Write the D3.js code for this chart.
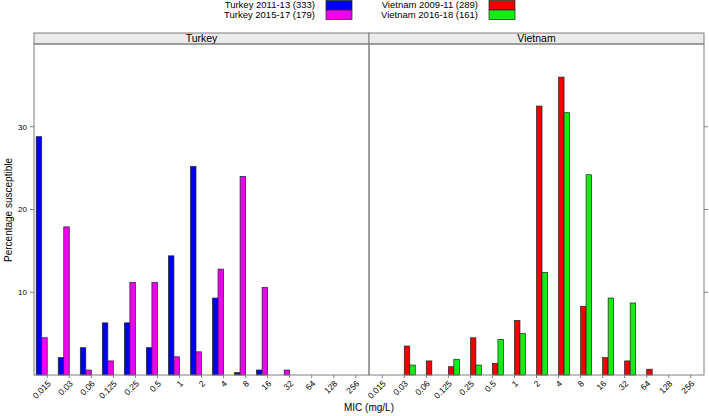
<!DOCTYPE html>
<html>
<head>
<meta charset="utf-8">
<script src="https://cdn.jsdelivr.net/npm/d3@7"></script>
<style>
  body { margin: 0; background: #fff; }
  text { font-family: "Liberation Sans", Arial, sans-serif; fill: #000; }
</style>
</head>
<body>
<div id="chart"></div>
<script>
var mic = ["0.015","0.03","0.06","0.125","0.25","0.5","1","2","4","8","16","32","64","128","256"];

var turkey_2011 = [28.8, 2.1, 3.3, 6.3, 6.3, 3.3, 14.4, 25.2, 9.3, 0.3, 0.6, 0, 0, 0, 0];
var turkey_2015 = [4.5, 17.9, 0.6, 1.7, 11.2, 11.2, 2.2, 2.8, 12.8, 24.0, 10.6, 0.6, 0, 0, 0];
var vietnam_2009 = [0, 3.5, 1.7, 1.0, 4.5, 1.4, 6.6, 32.5, 36.0, 8.3, 2.1, 1.7, 0.7, 0, 0];
var vietnam_2016 = [0, 1.2, 0, 1.9, 1.2, 4.3, 5.0, 12.4, 31.7, 24.2, 9.3, 8.7, 0, 0, 0];

var series_names = ["Turkey 2011-13 (333)", "Turkey 2015-17 (179)", "Vietnam 2009-11 (289)", "Vietnam 2016-18 (161)"];
var series_colors = ["#0000f0", "#f000f0", "#f00000", "#10f010"];
var panels = ["Turkey", "Vietnam"];
var y_ticks = [10, 20, 30];

var W = 709, H = 416;
var left = 34, right = 704, stripTop = 33, stripBottom = 44, bottom = 375;
var panelW = (right - left) / 2;

var svg = d3.select("#chart").append("svg")
    .attr("width", W).attr("height", H);

var y = d3.scaleLinear().domain([0, 40]).range([bottom, stripBottom]);

// group slot in each band (4 slots, each panel fills two of them)
var slot = d3.scaleBand().domain([0, 1, 2, 3]).paddingInner(0).paddingOuter(0);

var panelData = [
    {name: panels[0], series: [{idx: 0, vals: turkey_2011}, {idx: 1, vals: turkey_2015}]},
    {name: panels[1], series: [{idx: 2, vals: vietnam_2009}, {idx: 3, vals: vietnam_2016}]}
];

panelData.forEach(function(p, pi) {
    var x0 = left + pi * panelW;
    var x = d3.scaleLinear().domain([0.4, mic.length + 0.6]).range([x0, x0 + panelW]);
    var bandW = x(2) - x(1);
    slot.range([-bandW / 2, bandW / 2]);

    var g = svg.append("g");

    p.series.forEach(function(s) {
        g.selectAll(null)
            .data(s.vals.map(function(v, i) { return {v: v, i: i}; }).filter(function(d) { return d.v > 0; }))
            .enter().append("rect")
            .attr("x", function(d) { return x(d.i + 1) + slot(s.idx); })
            .attr("width", slot.bandwidth())
            .attr("y", function(d) { return y(d.v); })
            .attr("height", function(d) { return y(0) - y(d.v); })
            .style("fill", series_colors[s.idx])
            .style("stroke", "#222")
            .style("stroke-width", 0.7);
    });

    // strip
    g.append("rect")
        .attr("x", x0).attr("y", stripTop)
        .attr("width", panelW).attr("height", stripBottom - stripTop)
        .style("fill", "#ebebeb").style("stroke", "#7f7f7f").style("stroke-width", 1);
    g.append("text")
        .attr("x", x0 + panelW / 2).attr("y", stripBottom - 2.5)
        .attr("text-anchor", "middle")
        .style("font-size", "10.5px")
        .text(p.name);

    // panel border
    g.append("rect")
        .attr("x", x0).attr("y", stripBottom)
        .attr("width", panelW).attr("height", bottom - stripBottom)
        .style("fill", "none").style("stroke", "#7f7f7f").style("stroke-width", 1);

    // bottom tick labels
    var xa = g.append("g");
    mic.forEach(function(m, i) {
        var cx = x(i + 1);
        xa.append("line")
            .attr("x1", cx).attr("x2", cx).attr("y1", bottom).attr("y2", bottom + 3)
            .style("stroke", "#7f7f7f");
        xa.append("text")
            .attr("transform", "translate(" + (cx + 2) + "," + (bottom + 7) + ") rotate(-45)")
            .attr("text-anchor", "end")
            .attr("dy", "0.35em")
            .style("font-size", "8.5px")
            .text(m);
    });
});

// y axis: labels left, ticks right too
var yl = svg.append("g");
y_ticks.forEach(function(t) {
    yl.append("line")
        .attr("x1", left - 4).attr("x2", left).attr("y1", y(t)).attr("y2", y(t))
        .style("stroke", "#7f7f7f");
    yl.append("line")
        .attr("x1", right).attr("x2", right + 4).attr("y1", y(t)).attr("y2", y(t))
        .style("stroke", "#7f7f7f");
    yl.append("text")
        .attr("x", left - 7).attr("y", y(t))
        .attr("dy", "0.35em")
        .attr("text-anchor", "end")
        .style("font-size", "8px")
        .text(t);
});

svg.append("text")
    .attr("transform", "translate(12,210) rotate(-90)")
    .attr("text-anchor", "middle")
    .style("font-size", "10px")
    .text("Percentage susceptible");

svg.append("text")
    .attr("x", left + panelW).attr("y", 411)
    .attr("text-anchor", "middle")
    .style("font-size", "10px")
    .text("MIC (mg/L)");

// legend
var legend = [
    {i: 0, tx: 315, bx: 326, row: 0},
    {i: 1, tx: 315, bx: 326, row: 1},
    {i: 2, tx: 478, bx: 489, row: 0},
    {i: 3, tx: 478, bx: 489, row: 1}
];
legend.forEach(function(l) {
    svg.append("text")
        .attr("x", l.tx).attr("y", 8 + l.row * 9.5)
        .attr("text-anchor", "end")
        .style("font-size", "9.5px")
        .text(series_names[l.i]);
    svg.append("rect")
        .attr("x", l.bx).attr("y", 0.5 + l.row * 9.5)
        .attr("width", 26).attr("height", 9.5)
        .style("fill", series_colors[l.i])
        .style("stroke", "#222").style("stroke-width", 0.7);
});
</script>
</body>
</html>
